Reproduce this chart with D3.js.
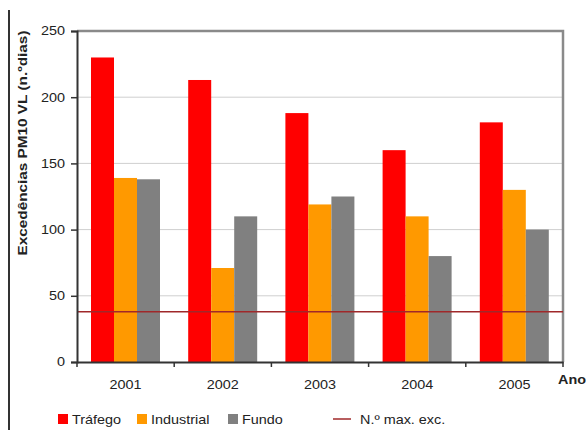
<!DOCTYPE html>
<html>
<head>
<meta charset="utf-8">
<script src="https://cdn.jsdelivr.net/npm/d3@7"></script>
<style>
  html, body { margin: 0; padding: 0; background: #fff; }
  svg { display: block; font-family: "Liberation Sans", Arial, sans-serif; }
  .wide { transform-box: fill-box; transform: scaleX(1.2); }
  .wide-c { transform-origin: center; }
  .wide-r { transform-origin: right; }
  .wide-l { transform-origin: left; }
</style>
</head>
<body>
<svg id="chart" width="586" height="430"></svg>
<script>
const years = ["2001", "2002", "2003", "2004", "2005"];
const series = ["Tráfego", "Industrial", "Fundo"];
const trafego = [230, 213, 188, 160, 181];
const industrial = [139, 71, 119, 110, 130];
const fundo = [138, 110, 125, 80, 100];
const limitValue = 38;
const yTicks = [0, 50, 100, 150, 200, 250];
const colors = ["#ff0000", "#ff9900", "#808080"];

const values = [trafego, industrial, fundo];
const svg = d3.select("#chart");
const margin = { top: 31, right: 23, bottom: 68, left: 77 };
const width = 586, height = 430;

const x0 = d3.scaleBand().domain(years).range([margin.left, width - margin.right]);
const x1 = d3.scaleBand().domain(series).range([14, 83]);
const y = d3.scaleLinear().domain([0, 250]).range([height - margin.bottom, margin.top]);

// page edge line
svg.append("line")
  .attr("x1", 9).attr("x2", 9).attr("y1", 10).attr("y2", 430)
  .attr("stroke", "#333").attr("stroke-width", 2);

// gridlines
svg.append("g")
  .selectAll("line")
  .data(yTicks.filter(d => d > 0 && d < 250))
  .join("line")
  .attr("x1", margin.left).attr("x2", width - margin.right)
  .attr("y1", d => y(d)).attr("y2", d => y(d))
  .attr("stroke", "#cfcfcf").attr("stroke-width", 1);

// plot border top/right
svg.append("path")
  .attr("d", `M${margin.left},${y(250)}H${width - margin.right}V${y(0)}`)
  .attr("fill", "none").attr("stroke", "#8a8a8a").attr("stroke-width", 2.5);

// bars
const groups = svg.append("g")
  .selectAll("g")
  .data(years)
  .join("g")
  .attr("transform", d => `translate(${x0(d)},0)`);

groups.selectAll("rect")
  .data((d, i) => series.map((s, j) => ({ s, v: values[j][i], c: colors[j] })))
  .join("rect")
  .attr("x", d => x1(d.s))
  .attr("width", x1.bandwidth())
  .attr("y", d => y(d.v))
  .attr("height", d => y(0) - y(d.v))
  .attr("fill", d => d.c);

// limit line
svg.append("line")
  .attr("x1", margin.left).attr("x2", width - margin.right)
  .attr("y1", y(limitValue)).attr("y2", y(limitValue))
  .attr("stroke", "#a0282a").attr("stroke-width", 1.5);

// y axis
const yAxis = svg.append("g")
  .attr("transform", `translate(${margin.left},0)`)
  .call(d3.axisLeft(y).tickValues(yTicks).tickSize(6).tickPadding(6));
yAxis.select(".domain").attr("stroke", "#333").attr("stroke-width", 2);
yAxis.selectAll(".tick line").attr("stroke", "#333").attr("stroke-width", 1.5);
yAxis.selectAll("text")
  .attr("font-size", 12).attr("fill", "#222")
  .attr("class", "wide wide-r");

// x axis
const xAxis = svg.append("g")
  .attr("transform", `translate(0,${y(0)})`)
  .call(d3.axisBottom(x0).tickSize(0).tickPadding(18));
xAxis.select(".domain").attr("stroke", "#333").attr("stroke-width", 2);
xAxis.selectAll("text")
  .attr("font-size", 12).attr("fill", "#222")
  .attr("class", "wide wide-c");

// x ticks at category boundaries
svg.append("g")
  .selectAll("line")
  .data(years.map(d => x0(d)).concat([x0(years[years.length - 1]) + x0.bandwidth()]))
  .join("line")
  .attr("x1", d => d).attr("x2", d => d)
  .attr("y1", y(0)).attr("y2", y(0) + 5)
  .attr("stroke", "#333").attr("stroke-width", 1.5);

// axis titles
svg.append("text")
  .attr("x", 558).attr("y", 384)
  .attr("font-size", 12).attr("font-weight", "bold").attr("fill", "#222")
  .attr("class", "wide wide-l")
  .text("Ano");

svg.append("text")
  .attr("transform", "translate(27,143) rotate(-90)")
  .attr("text-anchor", "middle")
  .attr("font-size", 12.5).attr("font-weight", "bold").attr("fill", "#222")
  .attr("textLength", 225).attr("lengthAdjust", "spacingAndGlyphs")
  .text("Excedências PM10 VL (n.ºdias)");

// legend
const legendX = [58, 137, 228];
const legend = svg.append("g");
series.forEach((s, i) => {
  legend.append("rect")
    .attr("x", legendX[i]).attr("y", 414)
    .attr("width", 10).attr("height", 10)
    .attr("fill", colors[i]);
  legend.append("text")
    .attr("x", legendX[i] + 14).attr("y", 424)
    .attr("font-size", 12).attr("fill", "#222")
    .attr("class", "wide wide-l")
    .text(s);
});
legend.append("line")
  .attr("x1", 333).attr("x2", 351).attr("y1", 419).attr("y2", 419)
  .attr("stroke", "#a0282a").attr("stroke-width", 1.5);
legend.append("text")
  .attr("x", 360).attr("y", 424)
  .attr("font-size", 12).attr("fill", "#222")
  .attr("class", "wide wide-l")
  .text("N.º max. exc.");
</script>
</body>
</html>
